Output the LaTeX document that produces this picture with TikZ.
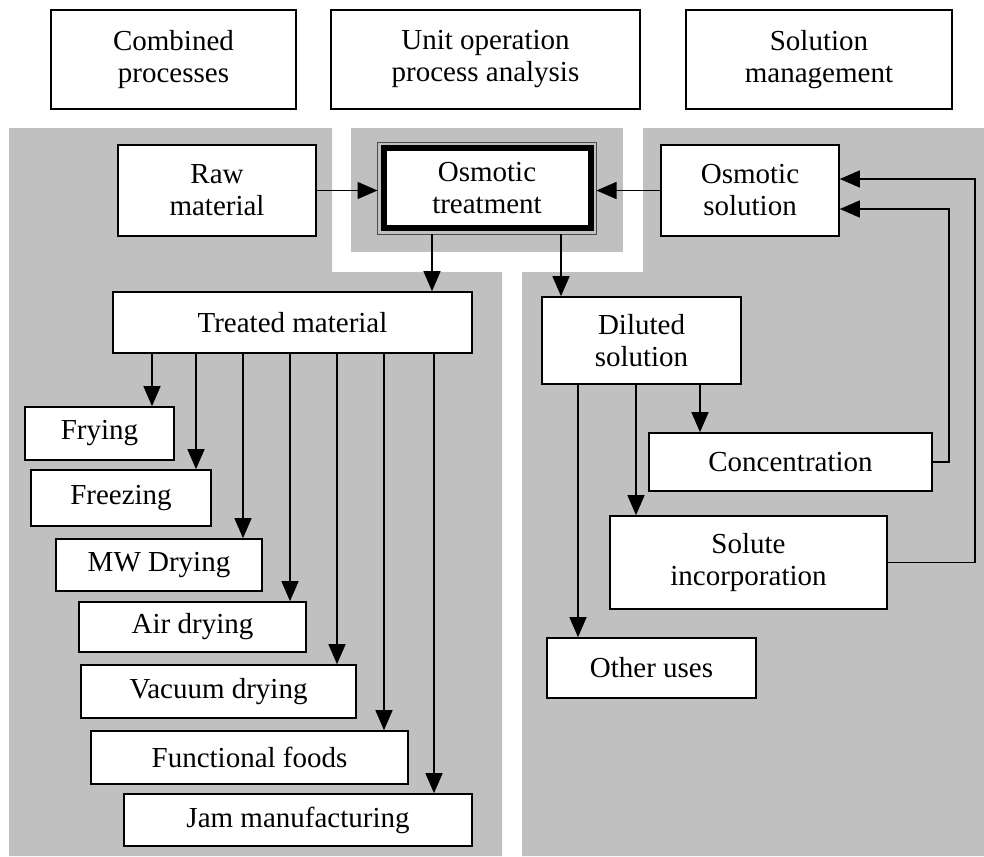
\documentclass[tikz,border=0pt]{standalone}
\usepackage{fontspec}
\setmainfont{Liberation Serif}
\usetikzlibrary{arrows.meta}
\definecolor{panelgray}{HTML}{C0C0C0}

\tikzset{
  box/.style={draw, line width=1.6pt, fill=white, align=center, inner sep=0pt,
    font=\fontsize{29}{32}\selectfont},
  mainbox/.style={box, line width=6pt, outer sep=6pt},
  arr/.style={-{Triangle[length=20pt,width=17pt]}, line width=1.3pt},
}

\begin{document}
\begin{tikzpicture}[x=1pt,y=-1pt]
    \useasboundingbox (0,0) rectangle (984,856);
    % shaded panels
    \fill[panelgray] (9,128) -- (332,128) -- (332,272) -- (502,272) -- (502,856) -- (9,856) -- cycle;
    \fill[panelgray] (643,128) -- (984,128) -- (984,856) -- (522,856) -- (522,272) -- (643,272) -- cycle;
    \fill[panelgray] (351,128) rectangle (623,252);

    % headings
    \node[box, minimum width=245pt, minimum height=99pt] (comb) at (173.5,59.5) {Combined\\processes};
    \node[box, minimum width=309pt, minimum height=99pt] (unitop) at (485.5,59.5) {Unit operation\\process analysis};
    \node[box, minimum width=266pt, minimum height=99pt] (solman) at (819,59.5) {Solution\\management};

    % osmotic step
    \node[box, minimum width=198pt, minimum height=91pt] (raw) at (217,190.5) {Raw\\material};
    \node[mainbox, minimum width=207pt, minimum height=80pt] (ot) at (487,188) {Osmotic\\treatment};
    \draw[black!70, line width=0.8pt] (ot.south west) rectangle (ot.north east);
    \node[box, minimum width=178pt, minimum height=91pt] (osmsol) at (750,190.5) {Osmotic\\solution};

    % treated material branch
    \node[box, minimum width=359pt, minimum height=61pt] (treated) at (292.5,322.5) {Treated material};
    \node[box, minimum width=149pt, minimum height=53pt] (fry) at (99.5,433.5) {Frying};
    \node[box, minimum width=180pt, minimum height=56pt] (freeze) at (121,498) {Freezing};
    \node[box, minimum width=206pt, minimum height=52pt] (mw) at (159,565) {MW Drying};
    \node[box, minimum width=227pt, minimum height=50pt] (air) at (192.5,627) {Air drying};
    \node[box, minimum width=275pt, minimum height=53pt] (vac) at (218.5,691.5) {Vacuum drying};
    \node[box, minimum width=317pt, minimum height=53pt] (func) at (249.5,757.5) {Functional foods};
    \node[box, minimum width=348pt, minimum height=52pt] (jam) at (298,820) {Jam manufacturing};

    % solution branch
    \node[box, minimum width=199pt, minimum height=87pt] (diluted) at (641.5,340.5) {Diluted\\solution};
    \node[box, minimum width=283pt, minimum height=58pt] (conc) at (790.5,462) {Concentration};
    \node[box, minimum width=277pt, minimum height=93pt] (solute) at (748.5,562.5) {Solute\\incorporation};
    \node[box, minimum width=209pt, minimum height=60pt] (other) at (651.5,668) {Other uses};

    % connectors
    \draw[arr] (raw.east) -- (raw.east -| ot.west);
    \draw[arr] (osmsol.west) -- (osmsol.west -| ot.east);
    \draw[arr] (432,0 |- ot.south) -- (432,0 |- treated.north);
    \draw[arr] (561,0 |- ot.south) -- (561,0 |- diluted.north);
    \foreach \t/\x in {fry/152,freeze/196,mw/243,air/290,vac/337,func/384,jam/434}
      \draw[arr] (\x,0 |- treated.south) -- (\x,0 |- \t.north);
    \foreach \t/\x in {other/578,solute/636,conc/700}
      \draw[arr] (\x,0 |- diluted.south) -- (\x,0 |- \t.north);
    \draw[arr] (conc.east) -- (949,0 |- conc.east) |- ([yshift=-18.5pt]osmsol.east);
    \draw[arr] (solute.east) -- (975,0 |- solute.east) |- ([yshift=11.5pt]osmsol.east);
\end{tikzpicture}
\end{document}
